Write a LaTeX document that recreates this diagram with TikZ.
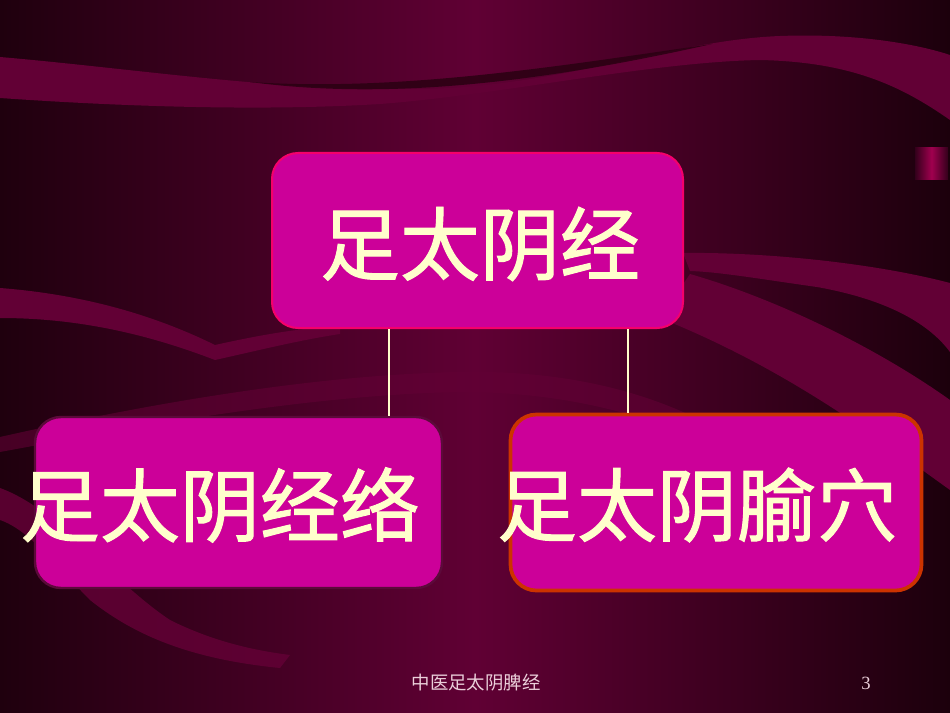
\documentclass[tikz,border=0pt]{standalone}
\usepackage{fontspec}
\newfontfamily\cjk{Noto Sans CJK SC}
\newfontfamily\cjkheavy{Noto Sans CJK SC}[FakeBold=1.2]
\newfontfamily\serifen{Liberation Serif}
\definecolor{bgL}{HTML}{1F000E}
\definecolor{bgM}{HTML}{600034}
\definecolor{bgR}{HTML}{1C000C}
\definecolor{rib}{HTML}{620035}
\definecolor{streak}{HTML}{2A0012}
\definecolor{boxfill}{HTML}{CC0099}
\definecolor{topborder}{HTML}{F5006A}
\definecolor{lborder}{HTML}{5C0A3A}
\definecolor{rborder}{HTML}{CC3300}
\definecolor{cream}{HTML}{FFFFCC}
\definecolor{foot}{HTML}{EBCFDA}
\definecolor{patch}{HTML}{A0004F}
\definecolor{patchdark}{HTML}{33001B}
\tikzset{
  ribbon/.style={fill=rib},
  boxnode/.style={rectangle, rounded corners=26pt*0.75, fill=boxfill, inner sep=0pt},
  bigtext/.style={inner sep=0pt, text=cream, font=\cjkheavy\fontsize{60pt}{60pt}\selectfont},
  foottext/.style={inner sep=0pt, text=foot},
  link/.style={draw=cream, line width=1.2pt}
}
\begin{document}
\begin{tikzpicture}[x=0.75pt,y=-0.75pt]
\useasboundingbox (0,0) rectangle (950,713);
% background
\shade[left color=bgL, right color=bgR, middle color=bgM] (0,0) rectangle (950,713);
% top ribbon
\fill[ribbon] (0,57) .. controls (150,70) and (300,95) .. (450,88)
  .. controls (580,80) and (680,40) .. (780,36)
  .. controls (860,33) and (920,45) .. (950,55) -- (950,120)
  .. controls (900,85) and (850,62) .. (760,60)
  .. controls (650,62) and (500,95) .. (380,104)
  .. controls (250,112) and (100,105) .. (0,98) -- cycle;
\fill[streak, opacity=0.85] (250,82) .. controls (400,92) and (560,66) .. (712,44)
  .. controls (560,78) and (400,102) .. (250,82) -- cycle;
% left ribbons
\fill[ribbon] (0,288) .. controls (90,295) and (160,318) .. (215,345)
  .. controls (260,335) and (300,328) .. (340,326) -- (340,334)
  .. controls (300,340) and (260,350) .. (215,360)
  .. controls (150,335) and (80,318) .. (0,318) -- cycle;
\fill[ribbon, opacity=0.6] (0,437) .. controls (120,410) and (300,375) .. (460,372)
  .. controls (560,370) and (640,390) .. (700,420) -- (700,440)
  .. controls (620,405) and (540,392) .. (460,392)
  .. controls (300,395) and (120,430) .. (0,452) -- cycle;
\fill[ribbon, opacity=0.85] (0,488) .. controls (60,510) and (110,580) .. (170,620)
  .. controls (210,640) and (250,650) .. (290,655) -- (280,668)
  .. controls (200,660) and (140,640) .. (90,600)
  .. controls (60,570) and (30,530) .. (0,520) -- cycle;
% right ribbons
\fill[ribbon] (683,253) .. controls (760,252) and (870,262) .. (950,283) -- (950,352)
  .. controls (930,325) and (890,300) .. (817,287)
  .. controls (760,279) and (720,272) .. (690,271) -- cycle;
\fill[ribbon] (690,274) .. controls (780,300) and (880,350) .. (950,400) -- (950,490)
  .. controls (880,440) and (790,370) .. (660,318) -- cycle;
% small patch
\shade[left color=patchdark, right color=patchdark, middle color=patch] (915,148) rectangle (948,180);
% boxes
\node[boxnode, draw=topborder, line width=1.5pt, minimum width=411*0.75pt, minimum height=175*0.75pt] (top) at (477.5,240.5) {};
\node[boxnode, draw=lborder, line width=1.8pt, minimum width=407*0.75pt, minimum height=171*0.75pt] (lbox) at (238.5,502.5) {};
\node[boxnode, draw=rborder, line width=2.8pt, minimum width=411*0.75pt, minimum height=176*0.75pt] (rbox) at (716,502.5) {};
% connectors
\coordinate (c1) at (389,370);
\coordinate (c2) at (628,370);
\draw[link] (c1 |- top.south) -- (c1 |- lbox.north);
\draw[link] (c2 |- top.south) -- (c2 |- rbox.north);
% texts
\node[bigtext] (toptext) at (480,244) {足太阴经};
\node[bigtext] (ltext) at (220,505) {足太阴经络};
\node[bigtext] (rtext) at (697,505) {足太阴腧穴};
% footer
\node[foottext, font=\cjk\fontsize{13.8pt}{14pt}\selectfont] (foot) at (476,683) {中医足太阴脾经};
\node[foottext, font=\serifen\fontsize{14pt}{14pt}\selectfont] (pagenum) at (866,683) {3};
\end{tikzpicture}
\end{document}
